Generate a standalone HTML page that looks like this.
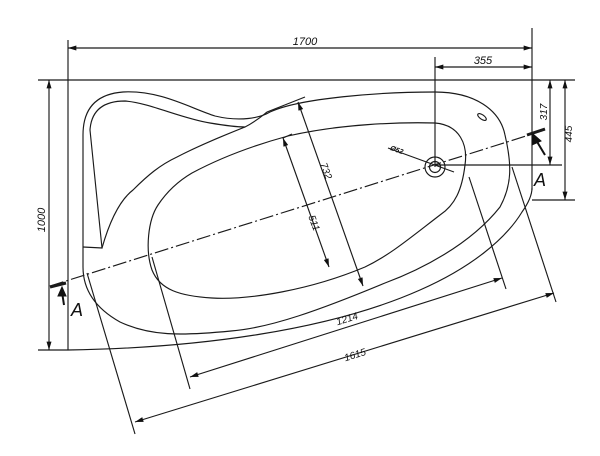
<!DOCTYPE html>
<html><head><meta charset="utf-8"><style>
html,body{margin:0;padding:0;background:#fff}
svg{display:block}
text{font-family:"Liberation Sans",sans-serif;font-style:italic;fill:#111}
</style></head><body>
<svg width="600" height="456" viewBox="0 0 600 456" xmlns="http://www.w3.org/2000/svg">
<defs>
<marker id="ar" viewBox="0 0 10 6" refX="10" refY="3" markerWidth="10" markerHeight="5" orient="auto-start-reverse" markerUnits="userSpaceOnUse"><path d="M0,0 L10,3 L0,6 z" fill="#111"/></marker>
</defs>
<g stroke="#1a1a1a" stroke-width="1.15" fill="none">
<line x1="38" y1="80" x2="575" y2="80"/>
<line x1="68" y1="40" x2="68" y2="350"/>
<line x1="532" y1="28" x2="532" y2="190"/>
<line x1="38" y1="350" x2="68" y2="350"/>
<path d="M68,350 C200,348 330,330 420,290 C470,268 505,240 522,212 Q532,198 532,188"/>
<line x1="532" y1="200" x2="575" y2="200"/>
<path d="M83,247 L83,135 Q83,95 123,92 C160,90 190,108 215,116 C240,122 260,118 270,112 C300,98 380,92 435,92 C475,92 500,110 505,135 C512,165 512,185 500,207 C470,245 420,270 385,283 C320,310 270,328 231,331 C180,336 150,336 120,322 C95,308 83,290 83,267 Z"/>
<path d="M83,247 L102,248 L90,130 Q92,101 125,101 C150,103 180,118 210,123 C228,126 240,127 245,127 C255,122 262,116 267,112"/>
<path d="M102,248 C110,220 120,200 133,190 C148,175 160,165 177,157 C200,145 225,135 245,127"/>
<line x1="267" y1="112" x2="305" y2="97"/>
<path d="M288,136 C340,124 400,122 435,123 C460,125 468,145 465,165 C462,190 455,205 440,215 C410,238 390,255 365,267 C310,290 250,300 212,298 C180,296 160,290 152,270 C145,250 148,220 158,205 C168,190 180,180 192,173 C220,158 255,145 288,136 Z"/>
<line x1="283" y1="138" x2="292" y2="134"/>
<ellipse cx="482" cy="117" rx="5" ry="2.2" transform="rotate(35 482 117)"/>
<circle cx="435" cy="167" r="10"/>
<circle cx="435" cy="167" r="5.5"/>
<line x1="388" y1="148" x2="454" y2="172"/>
<line x1="50" y1="286" x2="545" y2="130" stroke-dasharray="14,3,2,3"/>
<line x1="50" y1="287" x2="66" y2="283" stroke-width="3"/>
<line x1="527" y1="135" x2="545" y2="129" stroke-width="3"/>
<line x1="68" y1="48" x2="532" y2="48" marker-start="url(#ar)" marker-end="url(#ar)"/>
<line x1="435" y1="57" x2="435" y2="167"/>
<line x1="435" y1="67" x2="532" y2="67" marker-start="url(#ar)" marker-end="url(#ar)"/>
<line x1="435" y1="165" x2="562" y2="165"/>
<line x1="49" y1="80" x2="49" y2="350" marker-start="url(#ar)" marker-end="url(#ar)"/>
<line x1="550" y1="80" x2="550" y2="165" marker-start="url(#ar)" marker-end="url(#ar)"/>
<line x1="565" y1="80" x2="565" y2="200" marker-start="url(#ar)" marker-end="url(#ar)"/>
<line x1="298" y1="102" x2="363" y2="286" marker-start="url(#ar)" marker-end="url(#ar)"/>
<line x1="283" y1="138" x2="329" y2="267" marker-start="url(#ar)" marker-end="url(#ar)"/>
<line x1="152" y1="257" x2="190" y2="389"/>
<line x1="469" y1="177" x2="506" y2="289"/>
<line x1="190" y1="377" x2="502" y2="278" marker-start="url(#ar)" marker-end="url(#ar)"/>
<line x1="87" y1="273" x2="135" y2="434"/>
<line x1="512" y1="167" x2="556" y2="302"/>
<line x1="135" y1="422" x2="554" y2="293" marker-start="url(#ar)" marker-end="url(#ar)"/>
</g>
<g fill="#111" stroke="#111">
<line x1="64" y1="305" x2="62" y2="292" stroke-width="2"/>
<path d="M58,296 L62,287 L66,296 z"/>
<line x1="545" y1="155" x2="536" y2="140" stroke-width="2"/>
<path d="M532,145 L533,134 L541,141 z"/>
</g>
<g font-size="11">
<text x="305" y="45" text-anchor="middle">1700</text>
<text x="483" y="64" text-anchor="middle">355</text>
<text transform="translate(45 220) rotate(-90)" text-anchor="middle">1000</text>
<text transform="translate(547 112) rotate(-90)" text-anchor="middle" font-size="10">317</text>
<text transform="translate(572 134) rotate(-90)" text-anchor="middle" font-size="10">445</text>
<text transform="translate(323 172) rotate(70)" text-anchor="middle" font-size="10">732</text>
<text transform="translate(311 224) rotate(70)" text-anchor="middle" font-size="10">511</text>
<text transform="translate(348 322) rotate(-17.5)" text-anchor="middle" font-size="10">1214</text>
<text transform="translate(356 358) rotate(-17.5)" text-anchor="middle" font-size="10">1615</text>
<text transform="translate(396 152) rotate(20)" text-anchor="middle" font-size="7" font-weight="bold">Ø52</text>
<text x="71" y="316" font-size="18">A</text>
<text x="534" y="186" font-size="18">A</text>
</g>
</svg>
</body></html>
